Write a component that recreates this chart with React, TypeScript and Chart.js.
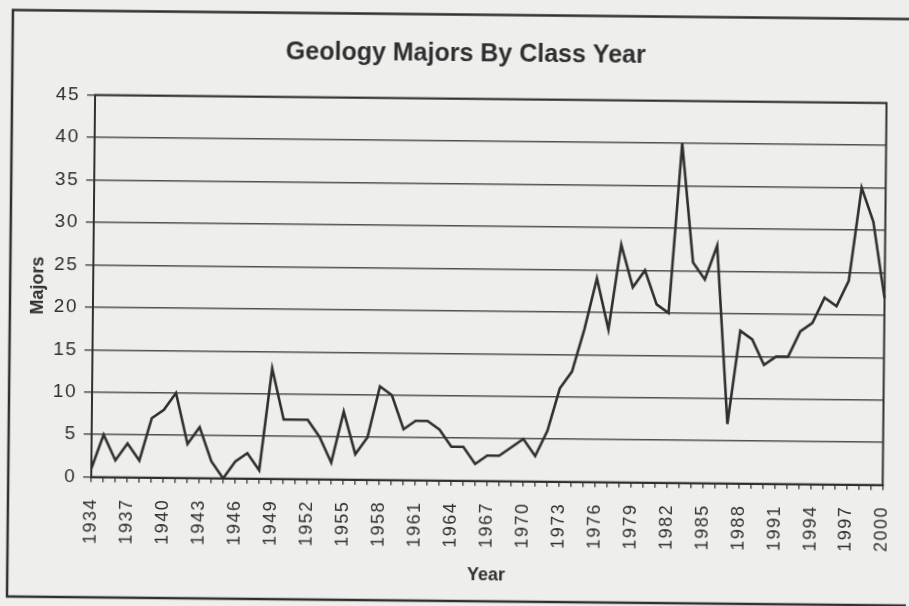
import React, { useEffect, useRef } from 'react';
import { Chart, registerables, CategoryScale, LinearScale } from 'chart.js';

// ---- data ----
const years: string[] = [
  '1934', '1935', '1936', '1937', '1938', '1939', '1940', '1941', '1942', '1943',
  '1944', '1945', '1946', '1947', '1948', '1949', '1950', '1951', '1952', '1953',
  '1954', '1955', '1956', '1957', '1958', '1959', '1960', '1961', '1962', '1963',
  '1964', '1965', '1966', '1967', '1968', '1969', '1970', '1971', '1972', '1973',
  '1974', '1975', '1976', '1977', '1978', '1979', '1980', '1981', '1982', '1983',
  '1984', '1985', '1986', '1987', '1988', '1989', '1990', '1991', '1992', '1993',
  '1994', '1995', '1996', '1997', '1998', '1999', '2000',
];

const majors: number[] = [
  1, 5, 2, 4, 2, 7, 8, 10, 4, 6,
  2, 0, 2, 3, 1, 13, 7, 7, 7, 5,
  2, 8, 3, 5, 11, 10, 6, 7, 7, 6,
  4, 4, 2, 3, 3, 4, 5, 3, 6, 11,
  13, 18, 24, 18, 28, 23, 25, 21, 20, 40,
  26, 24, 28, 7, 18, 17, 14, 15, 15, 18,
  19, 22, 21, 24, 35, 31, 22,
];

const labeledYears: string[] = [
  '1934', '1937', '1940', '1943', '1946', '1949', '1952', '1955', '1958', '1961', '1964',
  '1967', '1970', '1973', '1976', '1979', '1982', '1985', '1988', '1991', '1994', '1997', '2000',
];

const yMin = 0;
const yMax = 45;
const yStep = 5;

const chartTitle = 'Geology Majors By Class Year';
const xTitle = 'Year';
const yTitle = 'Majors';

// ---- styles ----
const FONT = '"Liberation Sans", Arial, Helvetica, sans-serif';
const INK = '#303030';
const GRID = '#505050';
const PAPER = '#eeeeec';

class SpacedCategoryScale extends CategoryScale {
  static id = 'spacedCategory';
  static defaults = CategoryScale.defaults;
  drawLabels(area: any) {
    const ctx = this.ctx as any;
    ctx.save();
    ctx.letterSpacing = '1.5px';
    super.drawLabels(area);
    ctx.restore();
  }
}

class SpacedLinearScale extends LinearScale {
  static id = 'spacedLinear';
  static defaults = LinearScale.defaults;
  drawLabels(area: any) {
    const ctx = this.ctx as any;
    ctx.save();
    ctx.letterSpacing = '1.5px';
    super.drawLabels(area);
    ctx.restore();
  }
}

Chart.register(...registerables, SpacedCategoryScale, SpacedLinearScale);

const paperPlugin = {
  id: 'paper',
  beforeDraw(chart: any) {
    const { ctx, width, height } = chart;
    ctx.save();
    ctx.fillStyle = PAPER;
    ctx.fillRect(0, 0, width, height);
    ctx.strokeStyle = INK;
    ctx.lineWidth = 2.5;
    ctx.beginPath();
    ctx.moveTo(width + 10, 14.5);
    ctx.lineTo(10, 14.5);
    ctx.lineTo(10, 601);
    ctx.lineTo(width + 10, 601);
    ctx.stroke();
    ctx.restore();
  },
  beforeDatasetsDraw(chart: any) {
    const { ctx, chartArea: a } = chart;
    ctx.save();
    ctx.strokeStyle = INK;
    ctx.lineWidth = 2;
    ctx.strokeRect(a.left, a.top, a.right - a.left, a.bottom - a.top);
    ctx.restore();
  },
};

export default function App() {
  const canvasRef = useRef<HTMLCanvasElement | null>(null);

  useEffect(() => {
    const canvas = canvasRef.current;
    if (!canvas) return;
    const chart = new Chart(canvas, {
      type: 'line',
      data: {
        labels: years,
        datasets: [
          {
            label: yTitle,
            data: majors,
            borderColor: INK,
            borderWidth: 2.6,
            pointRadius: 0,
            tension: 0,
            fill: false,
            borderJoinStyle: 'miter',
          },
        ],
      },
      options: {
        responsive: false,
        animation: false,
        devicePixelRatio: 1,
        layout: { padding: { left: 42, right: 24.5, top: 0, bottom: 0 } },
        plugins: {
          legend: { display: false },
          tooltip: { enabled: false },
          title: {
            display: true,
            text: chartTitle,
            color: INK,
            font: { family: FONT, size: 25, weight: 'bold', lineHeight: 1.2 },
            padding: { top: 39, bottom: 29.6 },
          },
        },
        scales: {
          x: {
            type: 'spacedCategory',
            offset: false,
            grid: {
              display: true,
              drawOnChartArea: false,
              drawTicks: true,
              tickLength: 5,
              color: GRID,
              lineWidth: 1.5,
            },
            border: { display: true, color: INK, width: 2 },
            ticks: {
              autoSkip: false,
              maxRotation: 90,
              minRotation: 90,
              padding: 16,
              color: INK,
              font: { family: FONT, size: 18 },
              callback: (_v: any, i: number) =>
                labeledYears.includes(years[i]) ? years[i] : '',
            },
            title: {
              display: true,
              text: xTitle,
              color: INK,
              font: { family: FONT, size: 18, weight: 'bold', lineHeight: 1.2 },
              padding: { top: 0, bottom: 20 },
            },
            afterFit: (s: any) => {
              s.height = 125.3;
              s.paddingLeft = 0;
              s.paddingRight = 0;
            },
          },
          y: {
            type: 'spacedLinear',
            min: yMin,
            max: yMax,
            ticks: {
              stepSize: yStep,
              padding: 7,
              color: INK,
              font: { family: FONT, size: 19 },
            },
            grid: {
              color: GRID,
              lineWidth: 1.5,
              drawTicks: true,
              tickLength: 8,
            },
            border: { display: true, color: INK, width: 2 },
            title: {
              display: true,
              text: yTitle,
              color: INK,
              font: { family: FONT, size: 18, weight: 'bold', lineHeight: 1.2 },
              padding: { top: -14.8, bottom: 0 },
            },
            afterFit: (s: any) => {
              s.width = 51;
            },
          },
        },
      } as any,
      plugins: [paperPlugin],
    });
    return () => chart.destroy();
  }, []);

  return (
    <div
      style={{
        position: 'fixed',
        left: 0,
        top: 0,
        width: 909,
        height: 606,
        background: PAPER,
        overflow: 'hidden',
      }}
    >
      <canvas
        ref={canvasRef}
        width={909}
        height={606}
        style={{
          display: 'block',
          width: 909,
          height: 606,
          transform: 'rotate(0.58deg)',
          transformOrigin: '454.5px 303px',
        }}
      />
    </div>
  );
}
